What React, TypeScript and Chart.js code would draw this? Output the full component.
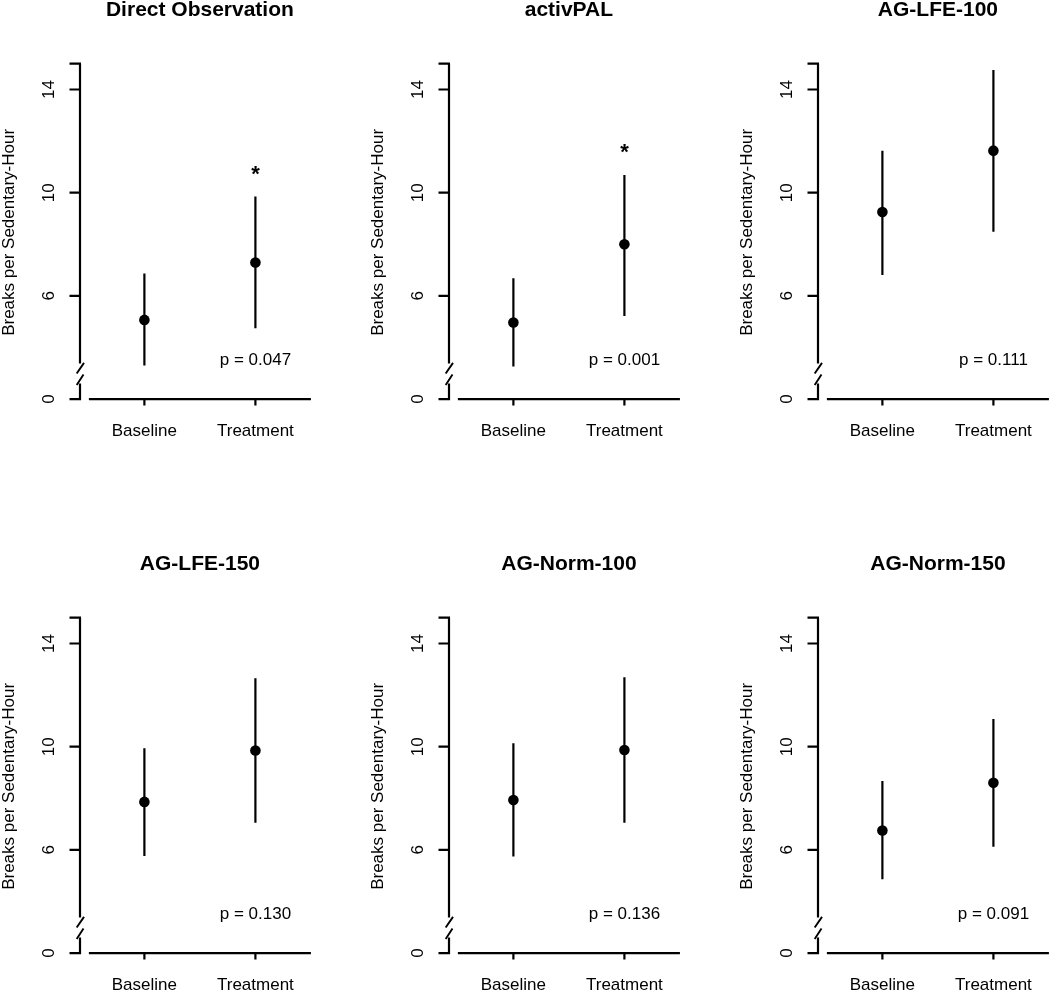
import React, { useEffect, useRef } from "react";
import { Chart, registerables } from "chart.js";

Chart.register(...registerables);

// ---- data ----
const panelTitles = ["Direct Observation", "activPAL", "AG-LFE-100", "AG-LFE-150", "AG-Norm-100", "AG-Norm-150"];
const groupLabels = ["Baseline", "Treatment"];
const baselineMean = [5.07, 4.97, 9.25, 7.86, 7.93, 6.75];
const baselineLower = [3.3, 3.26, 6.81, 5.76, 5.74, 4.86];
const baselineUpper = [6.87, 6.68, 11.63, 9.94, 10.13, 8.67];
const treatmentMean = [7.29, 8.0, 11.63, 9.85, 9.87, 8.6];
const treatmentLower = [4.75, 5.22, 8.49, 7.05, 7.05, 6.12];
const treatmentUpper = [9.85, 10.69, 14.76, 12.65, 12.69, 11.07];
const pValueLabels = ["p = 0.047", "p = 0.001", "p = 0.111", "p = 0.130", "p = 0.136", "p = 0.091"];
const significant = [true, true, false, false, false, false];
const yTickValues = [2, 6, 10, 14, 15];
const yTickLabels = ["0", "6", "10", "14", ""];
const yAxisTitle = "Breaks per Sedentary-Hour";

const FONT = '"Liberation Sans", Arial, Helvetica, sans-serif';
const PANEL_W = 369;
const PANEL_H = 554;

function makeAxesPlugin(idx: number) {
  return {
    id: "rAxes" + idx,
    afterDraw(chart: any) {
      const ctx = chart.ctx as CanvasRenderingContext2D;
      const xs = chart.scales.x;
      const ys = chart.scales.y;
      const ca = chart.chartArea;
      const ax = ca.left;
      const y0 = ys.getPixelForValue(2);
      ctx.save();
      ctx.strokeStyle = "#000";
      ctx.fillStyle = "#000";
      ctx.lineWidth = 2.2;
      ctx.lineCap = "butt";

      // y axis with break
      const gapTop = ys.getPixelForValue(3.38);
      const gapBot = ys.getPixelForValue(2.6);
      ctx.beginPath();
      ctx.moveTo(ax, ys.getPixelForValue(15));
      ctx.lineTo(ax, gapTop);
      ctx.moveTo(ax, gapBot);
      ctx.lineTo(ax, y0 + 1);
      ctx.stroke();
      ctx.lineWidth = 1.9;
      ctx.beginPath();
      ctx.moveTo(ax - 3.3, gapTop + 10);
      ctx.lineTo(ax + 4, gapTop - 0.6);
      ctx.moveTo(ax - 3.3, gapTop + 21.5);
      ctx.lineTo(ax + 3.5, gapTop + 11);
      ctx.stroke();
      ctx.lineWidth = 2.2;

      // y ticks
      ctx.beginPath();
      yTickValues.forEach((v) => {
        const py = ys.getPixelForValue(v);
        ctx.moveTo(ax - 10.5, py);
        ctx.lineTo(ax + 1, py);
      });
      ctx.stroke();

      // y tick labels (rotated)
      ctx.font = "17px " + FONT;
      ctx.textAlign = "center";
      ctx.textBaseline = "middle";
      yTickValues.forEach((v, i) => {
        if (!yTickLabels[i]) return;
        const py = ys.getPixelForValue(v);
        ctx.save();
        ctx.translate(ax - 30.5, py);
        ctx.rotate(-Math.PI / 2);
        ctx.fillText(yTickLabels[i], 0, 0);
        ctx.restore();
      });

      // y title
      ctx.save();
      ctx.translate(ax - 66, (ca.top + ca.bottom) / 2 + 1);
      ctx.rotate(-Math.PI / 2);
      ctx.textBaseline = "alphabetic";
      ctx.fillText(yAxisTitle, 0, 0);
      ctx.restore();

      // x axis
      ctx.beginPath();
      ctx.moveTo(xs.getPixelForValue(0.5), y0);
      ctx.lineTo(xs.getPixelForValue(2.5), y0);
      [1, 2].forEach((v) => {
        const px = xs.getPixelForValue(v);
        ctx.moveTo(px, y0);
        ctx.lineTo(px, y0 + 6.5);
      });
      ctx.stroke();

      // x labels
      groupLabels.forEach((lab, i) => {
        ctx.fillText(lab, xs.getPixelForValue(i + 1), y0 + 32.5);
      });

      // p value
      ctx.fillText(pValueLabels[idx], xs.getPixelForValue(2), y0 - 39);

      // asterisk
      if (significant[idx]) {
        ctx.font = "bold 22px " + FONT;
        ctx.fillText("*", xs.getPixelForValue(2), ys.getPixelForValue(treatmentUpper[idx]) - 21.5);
      }

      // title
      ctx.font = "bold 21px " + FONT;
      ctx.fillText(panelTitles[idx], (ca.left + ca.right) / 2, ca.top - 40.5);
      ctx.restore();
    },
  };
}

function Panel({ idx }: { idx: number }) {
  const ref = useRef<HTMLCanvasElement | null>(null);
  useEffect(() => {
    if (!ref.current) return;
    const errColor = "#000";
    const chart = new Chart(ref.current, {
      type: "scatter",
      data: {
        datasets: [
          {
            type: "line",
            data: [
              { x: 1, y: baselineLower[idx] },
              { x: 1, y: baselineUpper[idx] },
            ],
            borderColor: errColor,
            borderWidth: 2.2,
            pointRadius: 0,
            showLine: true,
            fill: false,
          } as any,
          {
            type: "line",
            data: [
              { x: 2, y: treatmentLower[idx] },
              { x: 2, y: treatmentUpper[idx] },
            ],
            borderColor: errColor,
            borderWidth: 2.2,
            pointRadius: 0,
            showLine: true,
            fill: false,
          } as any,
          {
            type: "scatter",
            data: [
              { x: 1, y: baselineMean[idx] },
              { x: 2, y: treatmentMean[idx] },
            ],
            pointRadius: 5.3,
            pointBackgroundColor: "#000",
            pointBorderColor: "#000",
            pointBorderWidth: 0,
          } as any,
        ],
      },
      options: {
        responsive: false,
        animation: false,
        layout: { padding: { left: 80, right: PANEL_W - 319.8, top: 50.3, bottom: PANEL_H - 412.5 } },
        scales: {
          x: { type: "linear", min: 0.42, max: 2.58, display: false },
          y: { type: "linear", min: 1.48, max: 15.52, display: false },
        },
        plugins: { legend: { display: false }, tooltip: { enabled: false } },
        events: [],
      },
      plugins: [makeAxesPlugin(idx)],
    });
    return () => chart.destroy();
  }, [idx]);
  const col = idx % 3;
  const row = Math.floor(idx / 3);
  return (
    <canvas
      ref={ref}
      width={PANEL_W}
      height={PANEL_H}
      style={{ position: "absolute", left: col * PANEL_W, top: row * PANEL_H, width: PANEL_W, height: PANEL_H }}
    />
  );
}

export default function App() {
  return (
    <div
      style={{
        position: "absolute",
        left: 0,
        top: 0,
        width: 1050,
        height: 991,
        overflow: "hidden",
        background: "#fff",
      }}
    >
      {panelTitles.map((_, i) => (
        <Panel key={i} idx={i} />
      ))}
    </div>
  );
}
